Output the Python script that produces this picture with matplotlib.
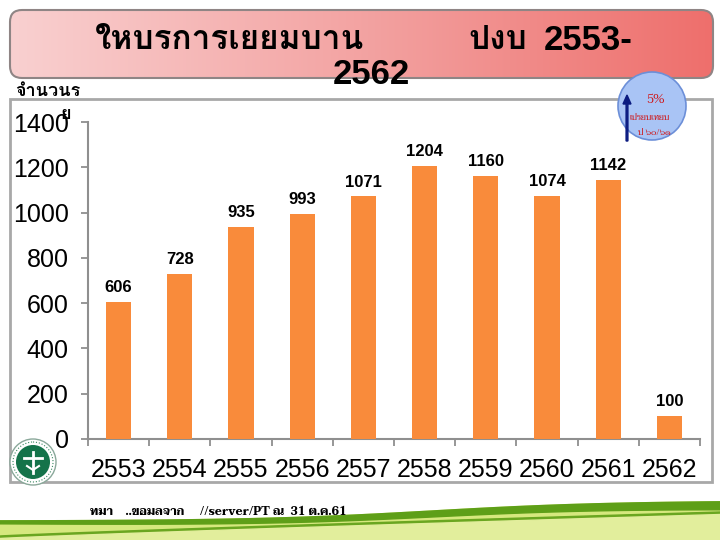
import matplotlib
matplotlib.use("Agg")
import matplotlib.pyplot as plt
import numpy as np

from matplotlib.patches import FancyBboxPatch, Rectangle, Circle, FancyArrow
from matplotlib.colors import LinearSegmentedColormap

# data
years = ["2553", "2554", "2555", "2556", "2557", "2558", "2559", "2560", "2561", "2562"]
visits = [606, 728, 935, 993, 1071, 1204, 1160, 1074, 1142, 100]
y_ticks = [0, 200, 400, 600, 800, 1000, 1200, 1400]

title_left = "ใหบรการเยยมบาน"
title_mid = "ปงบ"
title_year = "2553-"
title_second = "2562"
y_label = "จำนวนร"
y_label_tail = "ย"
note_pct = "5%"
note_line1 = "เปรยบเทยบ"
note_line2 = "ป ๖๐/๖๑"
footer = "ทมา    ..ขอมลจาก     //server/PT ณ  31 ต.ค.61"

W, H = 720, 540
THAI_BOLD = ["Loma", "Liberation Sans", "DejaVu Sans"]
THAI_SERIF = ["Taviraj", "Noto Serif Thai", "Liberation Serif", "DejaVu Serif"]
NUM = ["Liberation Sans", "DejaVu Sans"]
BAR_COLOR = "#f98b3b"
AXIS_GRAY = "#8f8f8f"

fig = plt.figure(figsize=(7.2, 5.4), dpi=100)

# background layer in pixel coordinates
bg = fig.add_axes([0, 0, 1, 1], zorder=0)
bg.set_xlim(0, W)
bg.set_ylim(H, 0)
bg.axis("off")

# title banner with pink -> salmon gradient
banner = FancyBboxPatch((10, 10), 703, 68, boxstyle="round,pad=0,rounding_size=12",
                        facecolor="none", edgecolor="#8f8585", linewidth=1.5, zorder=3)
bg.add_patch(banner)
cmap = LinearSegmentedColormap.from_list("banner", ["#f9d0d0", "#f3a3a2", "#ee6f6c"])
grad = np.linspace(0, 1, 256).reshape(1, -1)
im = bg.imshow(grad, extent=(10, 713, 78, 10), cmap=cmap, aspect="auto", zorder=2)
im.set_clip_path(banner)

# chart frame
bg.add_patch(Rectangle((10, 99), 702, 383, facecolor="white", edgecolor="#a8a8a8",
                       linewidth=2, zorder=1))

# green swoosh at the bottom
xs = np.linspace(0, W, 200)
t = xs / W
band_top = 511 - 10 * np.tanh(4 * (t - 0.6))
band_bot = band_top + 3 + 5 * t
line2 = 536 - 24 * t ** 0.9
bg.fill_between(xs, band_top, H, color="#d6e87e", zorder=1)
bg.fill_between(xs, band_top, band_bot, color="#5e9f18", zorder=1)
bg.fill_between(xs, line2, line2 + 2.5, color="#6aa620", zorder=1)
bg.fill_between(xs, line2 + 2.5, H, color="#e2ee9c", zorder=1)

# ministry logo (simplified)
bg.add_patch(Circle((33, 462), 23, facecolor="white", edgecolor="#8aa89a", lw=1, zorder=4))
bg.add_patch(Circle((33, 462), 17, facecolor="#14734a", edgecolor="none", zorder=4))
bg.add_patch(Circle((33, 462), 20, facecolor="none", edgecolor="#3b8a62", lw=0.8, ls=":", zorder=4))
bg.plot([33, 33], [452, 473], color="white", lw=2, zorder=5)
bg.plot([24, 42], [458, 458], color="white", lw=2, zorder=5)
bg.plot([27, 33, 39], [466, 470, 466], color="white", lw=1.5, zorder=5)

# titles and texts
bg.text(95, 40, title_left, fontsize=24, fontweight="bold", family=THAI_BOLD,
        va="center", ha="left", zorder=6)
bg.text(468, 40, title_mid, fontsize=24, fontweight="bold", family=THAI_BOLD,
        va="center", ha="left", zorder=6)
bg.text(544, 40, title_year, fontsize=25, fontweight="bold", family=NUM,
        va="center", ha="left", zorder=6)
bg.text(371, 75, title_second, fontsize=25, fontweight="bold", family=NUM,
        va="center", ha="center", zorder=6)
bg.text(15, 91, y_label, fontsize=13, fontweight="bold", family=THAI_BOLD,
        va="center", ha="left", zorder=6)
bg.text(60, 114, y_label_tail, fontsize=13, fontweight="bold", family=THAI_BOLD,
        va="center", ha="left", zorder=6)
bg.text(90, 512, footer, fontsize=8.5, fontweight="bold", family=THAI_SERIF,
        va="center", ha="left", zorder=6)

# comparison bubble
bg.add_patch(Circle((652, 106), 34, facecolor="#a9c4f5", edgecolor="#6c8fd8", lw=1.2, zorder=7))
bg.add_patch(FancyArrow(627, 141, 0, -46, width=1.8, head_width=8, head_length=9,
                        length_includes_head=True, color="#0a1a80", zorder=8))
bg.text(655, 100, note_pct, fontsize=9, color="#d01010", family=THAI_SERIF,
        ha="center", va="center", zorder=8)
bg.text(650, 118, note_line1, fontsize=6, color="#d01010", family=THAI_SERIF,
        ha="center", va="center", zorder=8)
bg.text(654, 133, note_line2, fontsize=6, color="#d01010", family=THAI_SERIF,
        ha="center", va="center", zorder=8)

# bar chart
ax = fig.add_axes([88 / W, 1 - 439 / H, (700 - 88) / W, (439 - 122) / H], zorder=5)
ax.patch.set_alpha(0)
x = np.arange(len(years))
bars = ax.bar(x, visits, width=0.41, color=BAR_COLOR, zorder=3)
ax.bar_label(bars, labels=[str(v) for v in visits], padding=5,
             fontsize=12, fontweight="bold", family=NUM)

ax.set_xlim(-0.5, len(years) - 0.5)
ax.set_ylim(0, 1400)
ax.set_yticks(y_ticks)
ax.set_yticklabels([str(t) for t in y_ticks], fontsize=18, family=NUM)
ax.set_xticks(x)
ax.set_xticklabels(years, fontsize=18, family=NUM)
ax.set_xticks(np.arange(-0.5, len(years)), minor=True)
ax.tick_params(axis="x", which="major", length=0, pad=14)
ax.tick_params(axis="x", which="minor", length=5, width=1.3, color=AXIS_GRAY, direction="out")
ax.tick_params(axis="y", length=5, width=1.3, color=AXIS_GRAY, pad=9)

for side in ("top", "right"):
    ax.spines[side].set_visible(False)
for side in ("left", "bottom"):
    ax.spines[side].set_color(AXIS_GRAY)
    ax.spines[side].set_linewidth(1.5)

fig.savefig("out.png", dpi=100)
